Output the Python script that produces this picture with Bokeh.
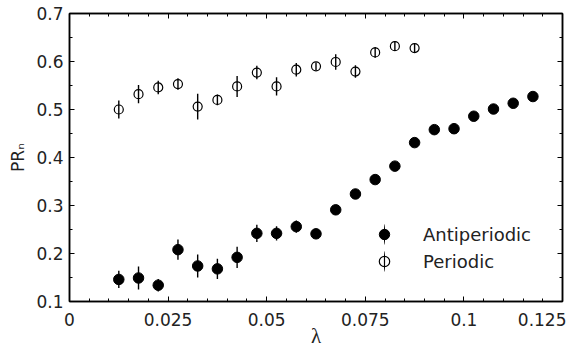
from bokeh.plotting import figure
from bokeh.models import (ColumnDataSource, LinearAxis, FixedTicker, Legend, LegendItem, Range1d)
from bokeh.embed import file_html
from bokeh.resources import INLINE

# ---- data ----
anti_x = [0.0125, 0.0175, 0.0225, 0.0275, 0.0325, 0.0375, 0.0425, 0.0475, 0.0525, 0.0575, 0.0625,
          0.0675, 0.0725, 0.0775, 0.0825, 0.0875, 0.0925, 0.0975, 0.1025, 0.1075, 0.1125, 0.1175]
anti_y = [0.146, 0.149, 0.134, 0.208, 0.174, 0.168, 0.192, 0.242, 0.242, 0.256, 0.241,
          0.291, 0.324, 0.354, 0.382, 0.431, 0.458, 0.460, 0.486, 0.501, 0.513, 0.527]
anti_err = [0.018, 0.024, 0.013, 0.021, 0.024, 0.021, 0.022, 0.018, 0.015, 0.013, 0.005,
            0.006, 0.005, 0.004, 0.004, 0.004, 0.004, 0.004, 0.004, 0.004, 0.004, 0.004]

per_x = [0.0125, 0.0175, 0.0225, 0.0275, 0.0325, 0.0375, 0.0425, 0.0475, 0.0525, 0.0575, 0.0625,
         0.0675, 0.0725, 0.0775, 0.0825, 0.0875]
per_y = [0.500, 0.532, 0.546, 0.553, 0.506, 0.520, 0.548, 0.577, 0.548, 0.583, 0.590,
         0.599, 0.579, 0.619, 0.632, 0.628]
per_err = [0.019, 0.019, 0.014, 0.012, 0.027, 0.011, 0.022, 0.014, 0.019, 0.014, 0.008,
           0.016, 0.013, 0.011, 0.010, 0.009]

x_ticks = [0, 0.025, 0.05, 0.075, 0.1, 0.125]
x_tick_labels = ["0", "0.025", "0.05", "0.075", "0.1", "0.125"]
y_ticks = [0.1, 0.2, 0.3, 0.4, 0.5, 0.6, 0.7]
y_tick_labels = ["0.1", "0.2", "0.3", "0.4", "0.5", "0.6", "0.7"]

series_labels = ["Antiperiodic", "Periodic"]
x_label = "λ"
y_label = "PRₙ"

FONT = "DejaVu Sans"
BLACK = "#000000"
TEXT = "#222222"

p = figure(width=566, height=350, output_backend="svg", toolbar_location=None,
           x_range=Range1d(0, 0.125), y_range=Range1d(0.1, 0.7),
           min_border_left=69, min_border_right=4, min_border_top=13, min_border_bottom=48,
           x_axis_location=None, y_axis_location=None)
p.xgrid.visible = False
p.ygrid.visible = False
p.outline_line_color = BLACK
p.outline_line_width = 1.5
p.background_fill_color = "white"
p.border_fill_color = "white"


def make_axis(ticks, labels, show_labels, minor):
    ax = LinearAxis()
    ax.ticker = FixedTicker(ticks=ticks, minor_ticks=minor)
    ax.major_label_overrides = {t: l for t, l in zip(ticks, labels)}
    ax.axis_line_color = BLACK
    ax.axis_line_width = 1.5
    ax.major_tick_in = 5
    ax.major_tick_out = 0
    ax.minor_tick_in = 3
    ax.minor_tick_out = 0
    ax.major_tick_line_color = BLACK
    ax.minor_tick_line_color = BLACK
    ax.major_tick_line_width = 1
    ax.minor_tick_line_width = 1
    if show_labels:
        ax.major_label_text_font = FONT
        ax.major_label_text_font_size = "17px"
        ax.major_label_text_color = TEXT
    else:
        ax.major_label_text_color = None
        ax.major_label_standoff = 0
    return ax

x_minor = [round(i * 0.005, 4) for i in range(0, 26)]
y_minor = [round(0.1 + i * 0.05, 3) for i in range(0, 13)]

xb = make_axis(x_ticks, x_tick_labels, True, x_minor)
xb.major_label_standoff = 11
xb.axis_label = x_label
xb.axis_label_text_font = "Liberation Serif"
xb.axis_label_text_font_style = "normal"
xb.axis_label_text_font_size = "21px"
xb.axis_label_standoff = -5
xb.axis_label_text_color = TEXT
p.add_layout(xb, "below")

yl = make_axis(y_ticks, y_tick_labels, True, y_minor)
yl.major_label_standoff = 6
yl.axis_label = y_label
yl.axis_label_text_font = FONT
yl.axis_label_text_font_style = "normal"
yl.axis_label_text_font_size = "17px"
yl.axis_label_standoff = 5
yl.axis_label_text_color = TEXT
p.add_layout(yl, "left")

xt = make_axis(x_ticks, x_tick_labels, False, x_minor)
p.add_layout(xt, "above")
yr = make_axis(y_ticks, y_tick_labels, False, y_minor)
p.add_layout(yr, "right")

anti = ColumnDataSource(dict(x=anti_x, y=anti_y,
                             lo=[a - e for a, e in zip(anti_y, anti_err)],
                             hi=[a + e for a, e in zip(anti_y, anti_err)]))
per = ColumnDataSource(dict(x=per_x, y=per_y,
                            lo=[a - e for a, e in zip(per_y, per_err)],
                            hi=[a + e for a, e in zip(per_y, per_err)]))

p.segment(x0="x", y0="lo", x1="x", y1="hi", source=anti, line_color=BLACK, line_width=1.4)
r_anti = p.scatter("x", "y", source=anti, marker="circle", size=10.5,
                   fill_color=BLACK, line_color=BLACK)
p.segment(x0="x", y0="lo", x1="x", y1="hi", source=per, line_color=BLACK, line_width=1.4)
r_per = p.scatter("x", "y", source=per, marker="circle", size=9,
                  fill_color=None, line_color=BLACK, line_width=1.2)

# legend proxies for the vertical error bar (thin upright ellipse keeps its aspect in the legend)
nan = float("nan")
bar_a = p.ellipse(x=[nan], y=[nan], width=1.4, height=24, width_units="screen",
                  height_units="screen", fill_color=BLACK, line_color=None)
bar_p = p.ellipse(x=[nan], y=[nan], width=1.4, height=24, width_units="screen",
                  height_units="screen", fill_color=BLACK, line_color=None)

legend = Legend(items=[LegendItem(label=series_labels[0], renderers=[bar_a, r_anti]),
                       LegendItem(label=series_labels[1], renderers=[bar_p, r_per])],
                location=(295, 27), glyph_width=40, glyph_height=26, label_height=26,
                spacing=1, padding=0, margin=0, label_standoff=19,
                border_line_color=None, background_fill_alpha=0,
                label_text_font=FONT, label_text_font_size="18px", label_text_color=TEXT)
p.add_layout(legend)

open("out.html", "w").write(file_html(p, INLINE))
